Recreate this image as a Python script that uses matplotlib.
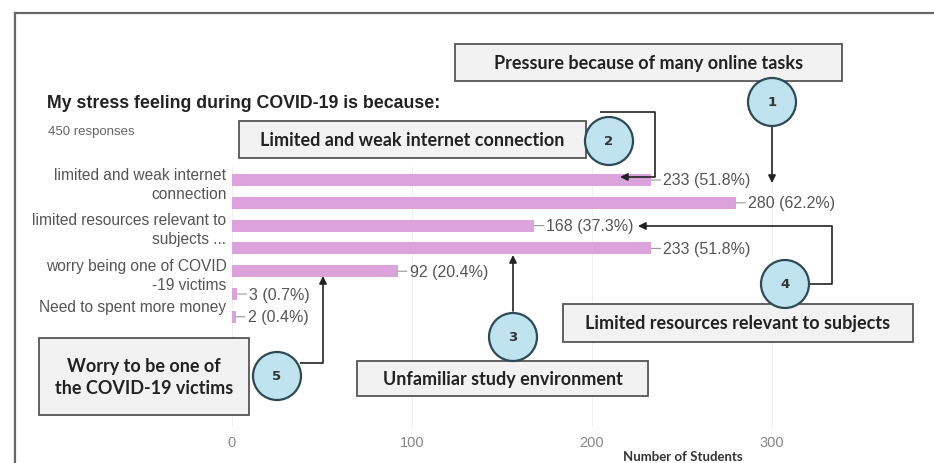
import matplotlib.pyplot as plt
from matplotlib.patches import Rectangle, Circle, FancyArrowPatch

# data
bar_values = [233, 280, 168, 233, 92, 3, 2]
bar_pcts = ["51.8", "62.2", "37.3", "51.8", "20.4", "0.7", "0.4"]
tick_labels = ["limited and weak internet\nconnection",
               "limited resources relevant to\nsubjects ...",
               "worry being one of COVID\n-19 victims",
               "Need to spent more money"]
tick_pos = [0, 2, 4, 5.5]
x_ticks = [0, 100, 200, 300]

bar_color = "#dba2dc"
W, H = 934, 464

fig = plt.figure(figsize=(W / 100, H / 100), dpi=100)

# main bar chart
ax = fig.add_axes([232 / W, 1 - 428 / H, 648 / W, 260 / H])
ax.barh(range(len(bar_values)), bar_values, height=0.53, color=bar_color, zorder=2)
ax.set_xlim(0, 360)
ax.set_ylim(10.83, -0.57)
ax.set_yticks(tick_pos)
ax.set_yticklabels(tick_labels, fontsize=11.2, color="#555555",
                   family="Liberation Sans", linespacing=1.35)
ax.set_xticks(x_ticks)
ax.set_xticklabels([str(t) for t in x_ticks], fontsize=10.5, color="#888888",
                   family="Liberation Sans")
ax.tick_params(length=0, pad=4)
ax.tick_params(axis="x", pad=6)
for s in ax.spines.values():
    s.set_visible(False)
ax.grid(axis="x", color="#f0f0f0", lw=0.8, zorder=0)
ax.set_xlabel("Number of Students", fontsize=9.5, fontweight="bold", family="Lato",
              color="#333333", va="center")
ax.xaxis.set_label_coords((683 - 232) / 648, -0.11)

# value labels with short leader lines
for i, (v, p) in enumerate(zip(bar_values, bar_pcts)):
    ax.annotate(f"{v} ({p}%)", xy=(v, i), xytext=(12, 0), textcoords="offset pixels",
                va="center", ha="left", fontsize=11.5, color="#555555",
                family="Liberation Sans",
                arrowprops=dict(arrowstyle="-", color="#999999", lw=0.8,
                                shrinkA=0, shrinkB=0))

# title
fig.text(47 / W, 1 - 103 / H, "My stress feeling during COVID-19 is because:",
         fontsize=12.8, fontweight="bold", family="Liberation Sans", color="#222222",
         va="center", ha="left")
fig.text(48 / W, 1 - 132 / H, "450 responses", fontsize=9.5, color="#666666",
         family="Liberation Sans", va="center", ha="left")

# overlay in pixel coordinates for callouts
ov = fig.add_axes([0, 0, 1, 1])
ov.set_xlim(0, W)
ov.set_ylim(H, 0)
ov.axis("off")
ov.patch.set_visible(False)

# outer frame
ov.plot([15, W], [14, 14], color="#666666", lw=1.6)
ov.plot([15, 15], [14, H], color="#666666", lw=1.6)

line_kw = dict(color="#222222", lw=1.2, solid_capstyle="butt")


def box(x0, y0, x1, y1, text):
    ov.add_patch(Rectangle((x0, y0), x1 - x0, y1 - y0, facecolor="#f2f2f2",
                           edgecolor="#555555", lw=1.3, zorder=3))
    ov.text((x0 + x1) / 2, (y0 + y1) / 2, text, ha="center", va="center",
            fontsize=13, fontweight="bold", family="Lato", color="#222222",
            linespacing=1.3, zorder=4)


def bubble(x, y, n, r=24):
    ov.add_patch(Circle((x, y), r, facecolor="#bfe4ef", edgecolor="#2e4a55",
                        lw=1.6, zorder=5))
    ov.text(x, y, str(n), ha="center", va="center", fontsize=9.5, fontweight="bold",
            color="#333333", zorder=6)


def arrow(p0, p1):
    ov.add_patch(FancyArrowPatch(p0, p1, arrowstyle="-|>", mutation_scale=11,
                                 color="#222222", lw=1.2, shrinkA=0, shrinkB=0,
                                 zorder=4))


# 1 - pressure
box(455, 45, 842, 82, "Pressure because of many online tasks")
arrow((772, 126), (772, 184))
bubble(772, 103, 1)

# 2 - internet
box(239, 122, 586, 159, "Limited and weak internet connection")
ov.plot([600, 655, 655], [113, 113, 178], **line_kw)
arrow((655, 178), (620, 178))
bubble(609, 142, 2)

# 3 - unfamiliar environment
box(357, 362, 648, 397, "Unfamiliar study environment")
arrow((513, 312), (513, 256))
bubble(513, 338, 3)

# 4 - limited resources
box(563, 305, 913, 343, "Limited resources relevant to subjects")
ov.plot([805, 832, 832], [285, 285, 227], **line_kw)
arrow((832, 227), (638, 227))
bubble(785, 285, 4)

# 5 - covid victims
box(39, 339, 249, 416, "Worry to be one of\nthe COVID-19 victims")
ov.plot([300, 323], [364, 364], **line_kw)
arrow((323, 364), (323, 277))
bubble(277, 377, 5)

plt.savefig("out.png", dpi=100, facecolor="white")
